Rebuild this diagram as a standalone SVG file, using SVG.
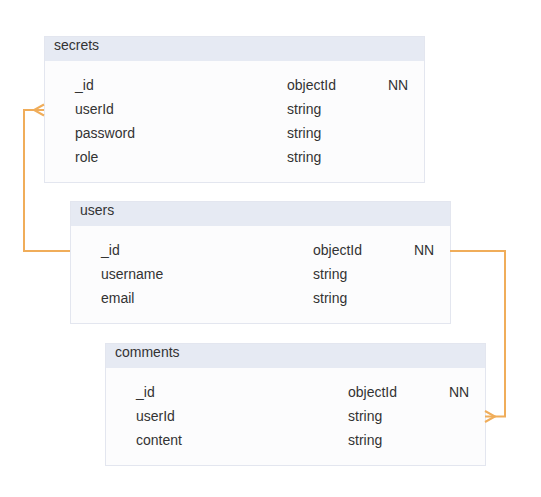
<svg xmlns="http://www.w3.org/2000/svg" width="541" height="497" viewBox="0 0 541 497">
<style>
.body{fill:#fcfcfd;stroke:#e3e6ef;stroke-width:1}
.head{fill:#e6eaf3}
text{font-family:"Liberation Sans",Arial,sans-serif;font-size:14px;fill:#333}
.conn{fill:none;stroke:#f0ad5a;stroke-width:2}
</style>
<rect width="541" height="497" fill="#ffffff"/>
<g id="secrets">
<rect class="body" x="44.5" y="36.5" width="380" height="146"/>
<rect class="head" x="45" y="37" width="379" height="24"/>
<text x="54" y="50">secrets</text>
<text x="75" y="90">_id</text><text x="287" y="90">objectId</text><text x="388" y="90">NN</text>
<text x="75" y="114">userId</text><text x="287" y="114">string</text>
<text x="75" y="138">password</text><text x="287" y="138">string</text>
<text x="75" y="162">role</text><text x="287" y="162">string</text>
</g>
<g id="users">
<rect class="body" x="70.5" y="201.5" width="380" height="122"/>
<rect class="head" x="71" y="202" width="379" height="24"/>
<text x="80" y="215">users</text>
<text x="101" y="255">_id</text><text x="313" y="255">objectId</text><text x="414" y="255">NN</text>
<text x="101" y="279">username</text><text x="313" y="279">string</text>
<text x="101" y="303">email</text><text x="313" y="303">string</text>
</g>
<g id="comments">
<rect class="body" x="105.5" y="343.5" width="380" height="122"/>
<rect class="head" x="106" y="344" width="379" height="24"/>
<text x="115" y="357">comments</text>
<text x="136" y="397">_id</text><text x="348" y="397">objectId</text><text x="449" y="397">NN</text>
<text x="136" y="421">userId</text><text x="348" y="421">string</text>
<text x="136" y="445">content</text><text x="348" y="445">string</text>
</g>
<g id="connectors">
<path class="conn" d="M70 251 H24 V110 H44"/>
<path class="conn" d="M44 104.5 L34 110 L44 115.5"/>
<path class="conn" d="M450 251 H505 V416.5 H485"/>
<path class="conn" d="M485 411 L495 416.5 L485 422"/>
</g>
</svg>
